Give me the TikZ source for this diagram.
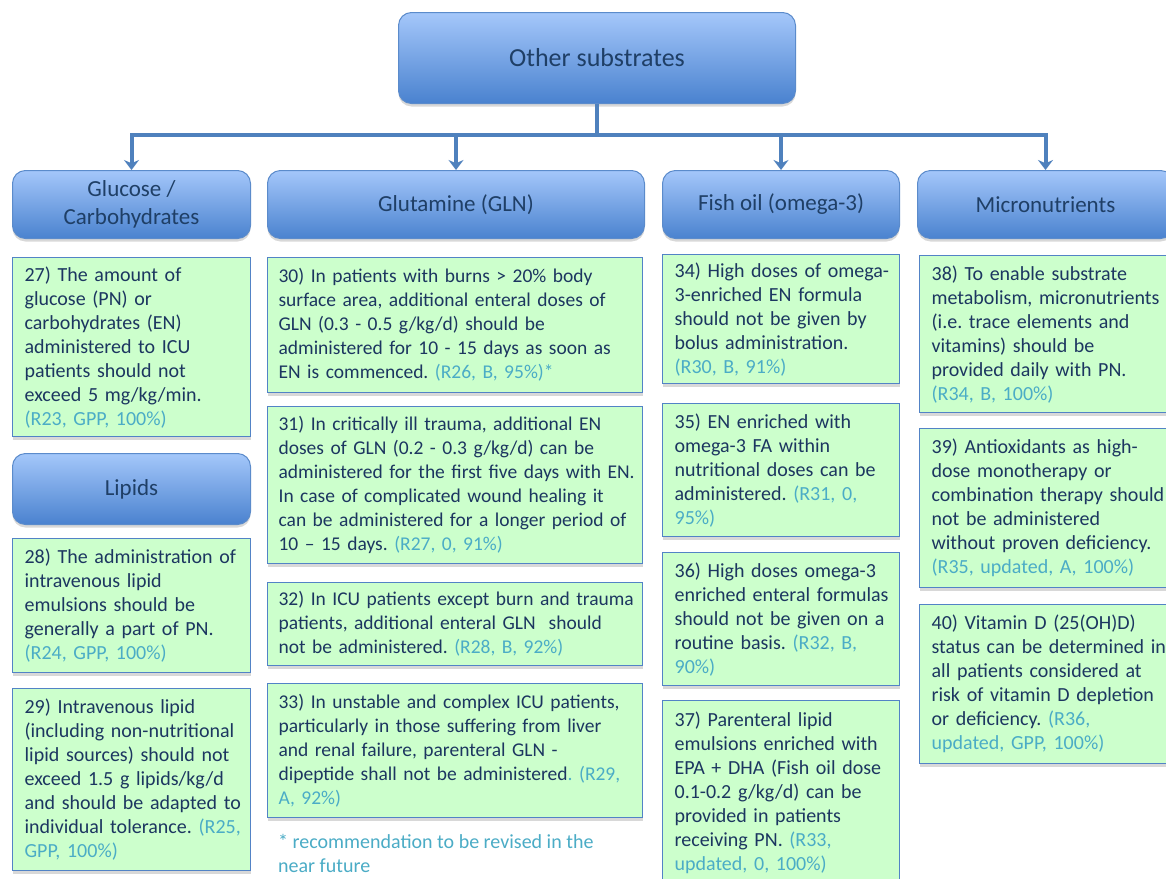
\documentclass[tikz,border=0pt]{standalone}
\usepackage{fontspec}
\setmainfont{Carlito}
\usepackage{xcolor}
\usepackage{tikz}
\usetikzlibrary{arrows.meta,shadows}

\definecolor{hdrtop}{HTML}{A4C7FA}
\definecolor{hdrbot}{HTML}{4A82CF}
\definecolor{hdrline}{HTML}{5B8BCB}
\definecolor{hdrtext}{HTML}{1F3F66}
\definecolor{boxfill}{HTML}{CCFFCC}
\definecolor{boxline}{HTML}{5283C6}
\definecolor{bodytext}{HTML}{1C3660}
\definecolor{refcol}{HTML}{4BACC6}
\definecolor{connline}{HTML}{4F81BD}

\newcommand{\rcm}[1]{\textcolor{refcol}{#1}}

\tikzset{
  head/.style={draw=hdrline, line width=1pt, rounded corners=13pt,
    top color=hdrtop, bottom color=hdrbot, text=hdrtext, align=center,
    anchor=north west, inner sep=0pt, font=\fontsize{23}{28}\selectfont,
    drop shadow={opacity=0.3, shadow xshift=0pt, shadow yshift=-3pt}},
  textpad/.style={execute at begin node={\leftskip=#1\rightskip=-20pt plus 1fil\hyphenpenalty=10000}},
  recbox/.style={draw=boxline, line width=1.2pt, fill=boxfill, text=bodytext,
    align=left, anchor=north west, inner sep=0pt, textpad=12pt,
    font=\fontsize{20}{24}\selectfont,
    drop shadow={opacity=0.3, shadow xshift=0pt, shadow yshift=-3pt}},
  widebox/.style={recbox, text width=375pt, textpad=11pt, font=\fontsize{19.5}{24}\selectfont},
  bar/.style={draw=connline, line width=4pt},
}

\begin{document}
\frenchspacing
\begin{tikzpicture}[x=1pt,y=-1pt]
    \path[use as bounding box, fill=white] (0,0) rectangle (1166,878);

    % headers
    \node[head, minimum width=397pt, minimum height=91pt, font=\fontsize{26}{31}\selectfont] (sub) at (398,12) {Other substrates};
    \node[head, minimum width=238pt, minimum height=68pt] (glc) at (12,170) {Glucose /\\ Carbohydrates};
    \node[head, minimum width=377pt, minimum height=68pt] (gln) at (267,170) {Glutamine (GLN)};
    \node[head, minimum width=237pt, minimum height=68pt] (fish) at (662,170) {Fish oil (omega-3)};
    \node[head, minimum width=256pt, minimum height=68pt] (micro) at (917,170) {Micronutrients};
    \node[head, minimum width=238pt, minimum height=71pt] (lip) at (12,453) {Lipids};

    \coordinate (bus) at (597,135);
    \draw[bar] (sub) -- (bus);
    \draw[bar, -{Stealth[length=10pt,width=15pt]}] (bus) -| (glc);
    \draw[bar, -{Stealth[length=10pt,width=15pt]}] (bus) -| (gln);
    \draw[bar, -{Stealth[length=10pt,width=15pt]}] (bus) -| (fish);
    \draw[bar, -{Stealth[length=10pt,width=15pt]}] (bus) -| (micro);

    % glucose and lipids
    \node[recbox, text width=238pt, minimum height=179pt] (27) at (12,257) {27) The amount of\\ glucose (PN) or\\ carbohydrates (EN)\\ administered to ICU\\ patients should not\\ exceed 5 mg/kg/min.\\ \rcm{(R23, GPP, 100\%)}};
    \node[recbox, text width=238pt, minimum height=134pt] (28) at (12,538) {28) The administration of\\ intravenous lipid\\ emulsions should be\\ generally a part of PN.\\ \rcm{(R24, GPP, 100\%)}};
    \node[recbox, text width=238pt, minimum height=182pt] (29) at (12,688) {29) Intravenous lipid\\ (including non-nutritional\\ lipid sources) should not\\ exceed 1.5 g lipids/kg/d\\ and should be adapted to\\ individual tolerance. \rcm{(R25,}\\ \rcm{GPP, 100\%)}};

    % glutamine
    \node[widebox, minimum height=135pt] (30) at (267,257) {30) In patients with burns > 20\% body\\ surface area, additional enteral doses of\\ GLN (0.3 - 0.5 g/kg/d) should be\\ administered for 10 - 15 days as soon as\\ EN is commenced. \rcm{(R26, B, 95\%)*}};
    \node[widebox, minimum height=157pt] (31) at (267,406) {31) In critically ill trauma, additional EN\\ doses of GLN (0.2 - 0.3 g/kg/d) can be\\ administered for the first five days with EN.\\ In case of complicated wound healing it\\ can be administered for a longer period of\\ 10 -- 15 days. \rcm{(R27, 0, 91\%)}};
    \node[widebox, minimum height=83pt] (32) at (267,582) {32) In ICU patients except burn and trauma\\ patients, additional enteral GLN\ \ should\\ not be administered. \rcm{(R28, B, 92\%)}};
    \node[widebox, minimum height=134pt] (33) at (267,683) {33) In unstable and complex ICU patients,\\ particularly in those suffering from liver\\ and renal failure, parenteral GLN -\\ dipeptide shall not be administered\rcm{. (R29,}\\ \rcm{A, 92\%)}};
    \node[anchor=north west, align=left, inner sep=0pt, text=refcol, font=\fontsize{20}{24}\selectfont] (note) at (278,834) {* recommendation to be revised in the\\ near future};

    % fish oil
    \node[recbox, text width=237pt, minimum height=129pt] (34) at (662,254) {34) High doses of omega-\\ 3-enriched EN formula\\ should not be given by\\ bolus administration.\\ \rcm{(R30, B, 91\%)}};
    \node[recbox, text width=237pt, minimum height=133pt] (35) at (662,403) {35) EN enriched with\\ omega-3 FA within\\ nutritional doses can be\\ administered. \rcm{(R31, 0,}\\ \rcm{95\%)}};
    \node[recbox, text width=237pt, minimum height=133pt] (36) at (662,552) {36) High doses omega-3\\ enriched enteral formulas\\ should not be given on a\\ routine basis. \rcm{(R32, B,}\\ \rcm{90\%)}};
    \node[recbox, text width=237pt, minimum height=184pt] (37) at (662,700) {37) Parenteral lipid\\ emulsions enriched with\\ EPA + DHA (Fish oil dose\\ 0.1-0.2 g/kg/d) can be\\ provided in patients\\ receiving PN. \rcm{(R33,}\\ \rcm{updated, 0, 100\%)}};

    % micronutrients
    \node[recbox, text width=256pt, minimum height=157pt] (38) at (919,255) {38) To enable substrate\\ metabolism, micronutrients\\ (i.e. trace elements and\\ vitamins) should be\\ provided daily with PN.\\ \rcm{(R34, B, 100\%)}};
    \node[recbox, text width=256pt, minimum height=159pt] (39) at (919,428) {39) Antioxidants as high-\\ dose monotherapy or\\ combination therapy should\\ not be administered\\ without proven deficiency.\\ \rcm{(R35, updated, A, 100\%)}};
    \node[recbox, text width=256pt, minimum height=159pt] (40) at (919,604) {40) Vitamin D (25(OH)D)\\ status can be determined in\\ all patients considered at\\ risk of vitamin D depletion\\ or deficiency. \rcm{(R36,}\\ \rcm{updated, GPP, 100\%)}};
\end{tikzpicture}
\end{document}
